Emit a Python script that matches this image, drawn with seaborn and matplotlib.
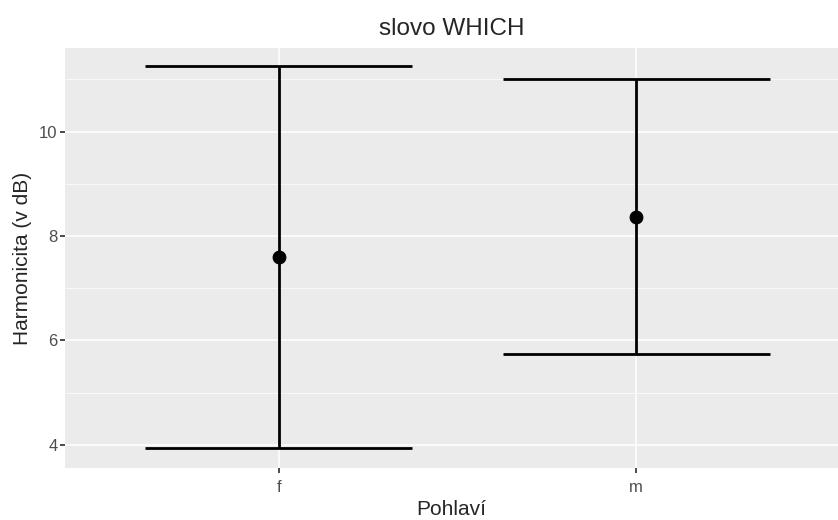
import numpy as np
import pandas as pd
import matplotlib
matplotlib.use("Agg")
import matplotlib.pyplot as plt
import seaborn as sns

# data
pohlavi = ["f", "m"]
prumer = [7.59, 8.36]
horni = [11.26, 11.01]
dolni = [3.94, 5.74]

df = pd.DataFrame({"pohlavi": pohlavi, "prumer": prumer, "horni": horni, "dolni": dolni})

sns.set_theme(style="darkgrid", rc={
    "axes.facecolor": "#EBEBEB",
    "grid.color": "white",
    "axes.edgecolor": "#EBEBEB",
    "xtick.bottom": True, "ytick.left": True,
    "xtick.color": "#333333", "ytick.color": "#333333",
    "xtick.major.size": 3.5, "ytick.major.size": 3.5,
})
plt.rcParams["font.family"] = ["Liberation Sans", "DejaVu Sans"]

fig = plt.figure(figsize=(8.38, 5.2), dpi=100)
ax = fig.add_axes([0.0776, 0.1, 0.9224, 0.8077])

xpos = np.arange(len(pohlavi))
w = 0.373
ax.vlines(xpos, df["dolni"], df["horni"], color="black", lw=2)
ax.hlines(df["horni"], xpos - w, xpos + w, color="black", lw=2)
ax.hlines(df["dolni"], xpos - w, xpos + w, color="black", lw=2)
sns.scatterplot(x=xpos, y=df["prumer"], color="black", s=85, ax=ax, zorder=5, edgecolor="black")

ax.set_xlim(-0.597, 1.564)
ax.set_ylim(3.556, 11.6)
ax.set_xticks(xpos)
ax.set_xticklabels(pohlavi, fontsize=12, color="#4D4D4D")
ax.set_yticks([4, 6, 8, 10])
ax.set_yticklabels(["4", "6", "8", "10"], fontsize=12, color="#4D4D4D")
ax.set_yticks([5, 7, 9, 11], minor=True)
ax.grid(which="major", color="white", lw=1.1)
ax.grid(which="minor", axis="y", color="white", lw=0.5)
ax.tick_params(which="minor", left=False)
ax.tick_params(axis="y", pad=2)
ax.tick_params(axis="x", pad=5)

ax.set_xlabel("Pohlaví", fontsize=15, labelpad=4)
ax.set_ylabel("Harmonicita (v dB)", fontsize=15, labelpad=5)
ax.set_title("slovo WHICH", fontsize=17.5, pad=9)
for s in ax.spines.values():
    s.set_visible(False)

fig.savefig("out.png", dpi=100)
